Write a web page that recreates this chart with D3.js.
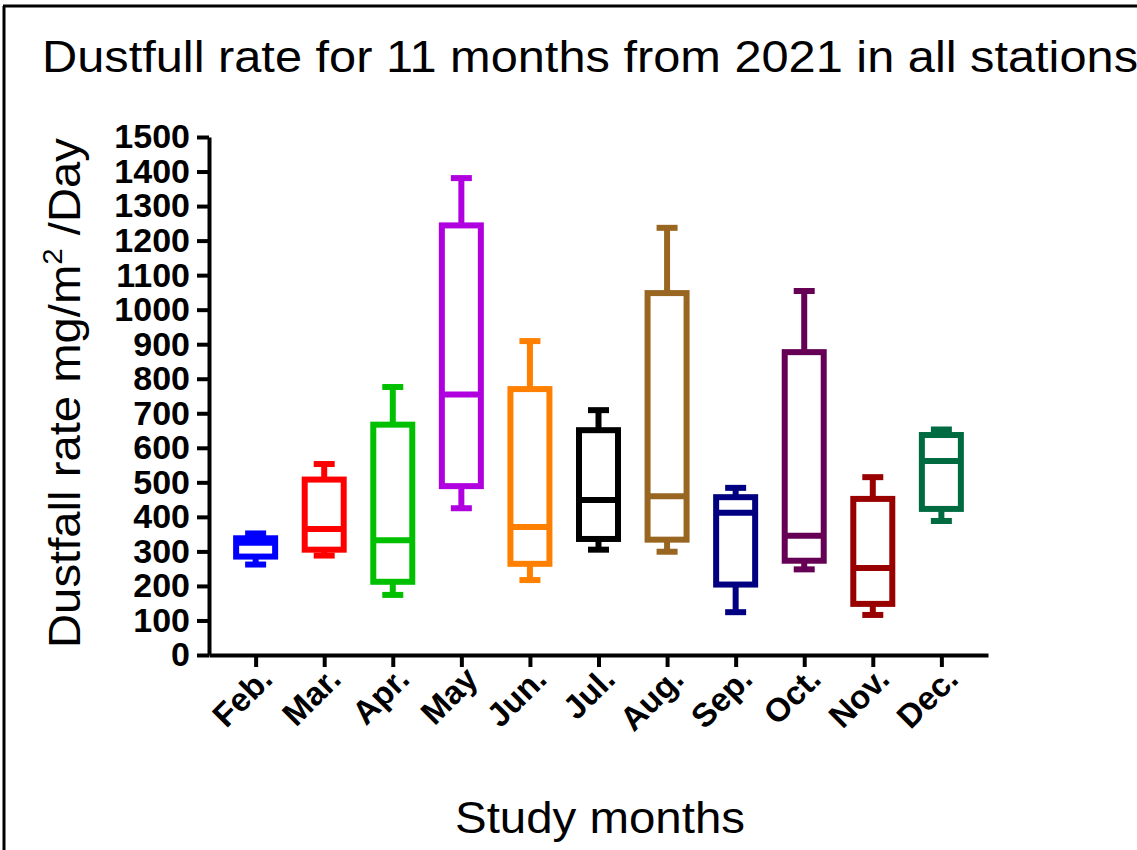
<!DOCTYPE html>
<html>
<head>
<meta charset="utf-8">
<script src="https://cdn.jsdelivr.net/npm/d3@7/dist/d3.min.js"></script>
<style>
  html, body { margin: 0; padding: 0; background: #fff; }
  svg { display: block; }
  text { font-family: "Liberation Sans", Arial, Helvetica, sans-serif; }
</style>
</head>
<body>
<div id="chart"></div>
<script>
const months  = ["Feb.", "Mar.", "Apr.", "May", "Jun.", "Jul.", "Aug.", "Sep.", "Oct.", "Nov.", "Dec."];
const minVals = [262, 288, 174, 425, 217, 305, 299, 124, 248, 116, 388];
const q1Vals  = [285, 305, 212, 489, 264, 336, 334, 204, 273, 148, 423];
const medVals = [325, 365, 332, 754, 371, 449, 460, 412, 345, 252, 562];
const q3Vals  = [338, 508, 667, 1244, 770, 651, 1048, 457, 877, 452, 637];
const maxVals = [352, 553, 776, 1381, 909, 709, 1237, 484, 1054, 515, 653];
const colors  = ["#0000FF", "#FF0000", "#00C000", "#B000E0", "#FF8000", "#000000",
                 "#996622", "#000080", "#660055", "#990000", "#006B40"];
const yTicks  = d3.range(0, 1501, 100);

const W = 1137, H = 850;
const svg = d3.select("#chart").append("svg").attr("width", W).attr("height", H);

// frame (left and top border)
svg.append("line").attr("x1", 4).attr("y1", 6).attr("x2", 4).attr("y2", H).attr("stroke", "#000").attr("stroke-width", 3);
svg.append("line").attr("x1", 3).attr("y1", 6).attr("x2", W).attr("y2", 6).attr("stroke", "#000").attr("stroke-width", 3);

const y = d3.scaleLinear().domain([0, 1500]).range([655, 137]);
const x = d3.scalePoint().domain(months).range([209, 988]).padding(0.68);

// Y axis
const yAxis = svg.append("g").attr("transform", "translate(209,0)")
  .call(d3.axisLeft(y).tickValues(yTicks).tickFormat(d3.format("d"))
    .tickSize(12).tickSizeOuter(0).tickPadding(7));
yAxis.select(".domain").attr("stroke-width", 4);
yAxis.selectAll(".tick line").attr("stroke-width", 4);
yAxis.selectAll(".tick text").attr("font-size", 34).attr("font-weight", "bold")
  .attr("font-family", "Liberation Sans, Arial, sans-serif").attr("fill", "#000");

// X axis
const xAxis = svg.append("g").attr("transform", "translate(0,655)")
  .call(d3.axisBottom(x).tickSize(12).tickSizeOuter(0).tickPadding(0));
xAxis.select(".domain").attr("stroke-width", 4);
xAxis.selectAll(".tick line").attr("stroke-width", 4);
xAxis.selectAll(".tick text")
  .attr("font-size", 33).attr("font-weight", "bold")
  .attr("font-family", "Liberation Sans, Arial, sans-serif").attr("fill", "#000")
  .attr("text-anchor", "end").attr("dy", null).attr("y", 0)
  .attr("transform", "translate(18,26) rotate(-45)");

// Box plots
const boxW = 39, capW = 21, sw = 6;
const data = months.map((m, i) => ({
  m, min: minVals[i], q1: q1Vals[i], med: medVals[i], q3: q3Vals[i], max: maxVals[i], c: colors[i]
}));
const g = svg.append("g");
data.forEach(d => {
  const cx = x(d.m);
  const gg = g.append("g").attr("stroke", d.c).attr("stroke-width", sw).attr("fill", "none");
  gg.append("line").attr("x1", cx).attr("x2", cx).attr("y1", y(d.q3)).attr("y2", y(d.max));
  gg.append("line").attr("x1", cx).attr("x2", cx).attr("y1", y(d.q1)).attr("y2", y(d.min));
  gg.append("line").attr("x1", cx - capW / 2).attr("x2", cx + capW / 2).attr("y1", y(d.max)).attr("y2", y(d.max));
  gg.append("line").attr("x1", cx - capW / 2).attr("x2", cx + capW / 2).attr("y1", y(d.min)).attr("y2", y(d.min));
  gg.append("rect").attr("x", cx - boxW / 2).attr("width", boxW)
    .attr("y", y(d.q3)).attr("height", y(d.q1) - y(d.q3)).attr("fill", "#fff");
  gg.append("line").attr("x1", cx - boxW / 2).attr("x2", cx + boxW / 2).attr("y1", y(d.med)).attr("y2", y(d.med));
});

// Title
svg.append("text").attr("x", 42).attr("y", 72).attr("font-size", 44)
  .attr("textLength", 1096).attr("lengthAdjust", "spacingAndGlyphs")
  .text("Dustfull rate for 11 months from 2021 in all stations");

// X title
svg.append("text").attr("x", 455).attr("y", 833).attr("font-size", 44)
  .attr("textLength", 290).attr("lengthAdjust", "spacingAndGlyphs")
  .text("Study months");

// Y title
const yt = svg.append("text").attr("transform", "translate(80,648) rotate(-90)")
  .attr("x", 0).attr("y", 0).attr("font-size", 45)
  .attr("textLength", 510).attr("lengthAdjust", "spacingAndGlyphs");
yt.append("tspan").text("Dustfall rate mg/m");
yt.append("tspan").attr("font-size", 28).attr("dy", -18).text("2");
yt.append("tspan").attr("dy", 18).text(" /Day");
</script>
</body>
</html>
